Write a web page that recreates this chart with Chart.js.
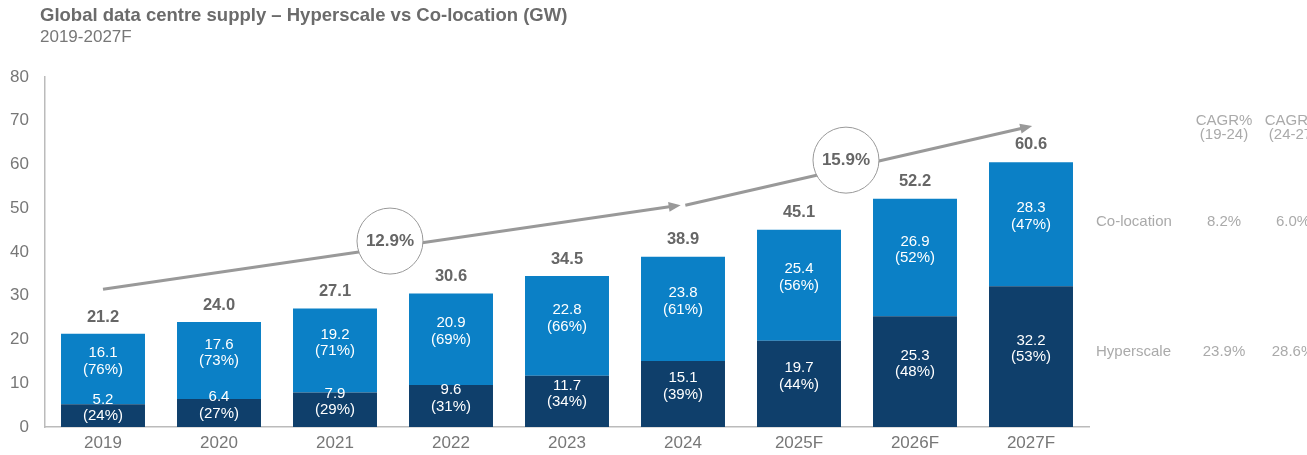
<!DOCTYPE html>
<html>
<head>
<meta charset="utf-8">
<title>Global data centre supply</title>
<script src="https://cdn.jsdelivr.net/npm/chart.js@4.4.1/dist/chart.umd.min.js"></script>
<style>
  body { margin: 0; background: #fff; font-family: "Liberation Sans", Arial, sans-serif; }
  #wrap { position: relative; width: 1307px; height: 455px; }
  #title { position: absolute; left: 40px; top: 5px; font-size: 18.5px; font-weight: bold; color: #6b6b6b; line-height: 20px; }
  #subtitle { position: absolute; left: 40px; top: 27px; font-size: 17px; color: #777; line-height: 20px; }
  canvas { position: absolute; left: 0; top: 0; }
</style>
</head>
<body>
<div id="wrap">
  <canvas id="supplyChart" width="1307" height="455"></canvas>
  <div id="title">Global data centre supply – Hyperscale vs Co-location (GW)</div>
  <div id="subtitle">2019-2027F</div>
</div>
<script>
// --- data ---
const years = ['2019', '2020', '2021', '2022', '2023', '2024', '2025F', '2026F', '2027F'];
const hyperscale = [5.2, 6.4, 7.9, 9.6, 11.7, 15.1, 19.7, 25.3, 32.2];
const colocation = [16.1, 17.6, 19.2, 20.9, 22.8, 23.8, 25.4, 26.9, 28.3];
const totals = [21.2, 24.0, 27.1, 30.6, 34.5, 38.9, 45.1, 52.2, 60.6];
const hyperPct = [24, 27, 29, 31, 34, 39, 44, 48, 53];
const coloPct = [76, 73, 71, 69, 66, 61, 56, 52, 47];
const yTicks = [0, 10, 20, 30, 40, 50, 60, 70, 80];

// trend arrows [category index, GW]
const trendPoints = [[0, 31.5], [4.98, 50.7], [5.02, 50.7], [8.01, 68.8]];
const cagrBubbles = ['12.9%', '15.9%'];
const cagrBubbleAt = [[2.474, 42.5], [6.405, 61.0]];

// side table
const cagrHeader = [['CAGR%', '(19-24)'], ['CAGR%', '(24-27)']];
const cagrRows = ['Co-location', 'Hyperscale'];
const cagrRowAt = [46.9, 17.2];
const cagrValues = [['8.2%', '6.0%'], ['23.9%', '28.6%']];

const FONT = '"Liberation Sans", Arial, sans-serif';
const LIGHT = '#0b80c6';
const DARK = '#0f3f6b';
const GREY = '#999999';

function arrowHead(ctx, x1, y1, x2, y2) {
    const a = Math.atan2(y2 - y1, x2 - x1);
    const len = 12, w = 5;
    ctx.beginPath();
    ctx.moveTo(x2, y2);
    ctx.lineTo(x2 - len * Math.cos(a) + w * Math.sin(a), y2 - len * Math.sin(a) - w * Math.cos(a));
    ctx.lineTo(x2 - len * Math.cos(a) - w * Math.sin(a), y2 - len * Math.sin(a) + w * Math.cos(a));
    ctx.closePath();
    ctx.fill();
}

const overlayPlugin = {
    id: 'overlay',
    afterDatasetsDraw(chart) {
        const ctx = chart.ctx;
        const xs = chart.scales.x, ys = chart.scales.y;
        const area = chart.chartArea;
        ctx.save();

        // labels inside the bars
        ctx.fillStyle = '#ffffff';
        ctx.font = '15px ' + FONT;
        ctx.textAlign = 'center';
        ctx.textBaseline = 'middle';
        [[0, hyperscale, hyperPct], [1, colocation, coloPct]].forEach(([di, vals, pcts]) => {
            chart.getDatasetMeta(di).data.forEach((bar, i) => {
                const mid = (bar.y + bar.base) / 2 - 8;
                ctx.fillText(vals[i].toFixed(1), bar.x, mid - 8);
                ctx.fillText('(' + pcts[i] + '%)', bar.x, mid + 8.5);
            });
        });

        // totals above the bars
        ctx.fillStyle = '#666666';
        ctx.font = 'bold 16.5px ' + FONT;
        totals.forEach((t, i) => {
            ctx.fillText(t.toFixed(1), xs.getPixelForValue(i), ys.getPixelForValue(t) - 17);
        });

        // trend arrows
        const px = trendPoints.map(p => [xs.getPixelForValue(p[0]), ys.getPixelForValue(p[1])]);
        ctx.strokeStyle = GREY;
        ctx.fillStyle = GREY;
        ctx.lineWidth = 3;
        for (let s = 0; s < px.length; s += 2) {
            const [a, b] = [px[s], px[s + 1]];
            const ang = Math.atan2(b[1] - a[1], b[0] - a[0]);
            ctx.beginPath();
            ctx.moveTo(a[0], a[1]);
            ctx.lineTo(b[0] - 8 * Math.cos(ang), b[1] - 8 * Math.sin(ang));
            ctx.stroke();
            arrowHead(ctx, a[0], a[1], b[0], b[1]);
        }

        // CAGR bubbles
        cagrBubbleAt.forEach((p, i) => {
            const cx = xs.getPixelForValue(p[0]), cy = ys.getPixelForValue(p[1]);
            ctx.beginPath();
            ctx.arc(cx, cy, 33, 0, Math.PI * 2);
            ctx.fillStyle = '#ffffff';
            ctx.fill();
            ctx.lineWidth = 1;
            ctx.strokeStyle = GREY;
            ctx.stroke();
            ctx.fillStyle = '#666666';
            ctx.font = 'bold 17px ' + FONT;
            ctx.fillText(cagrBubbles[i], cx, cy);
        });

        // side table
        ctx.fillStyle = '#aaaaaa';
        ctx.font = '15px ' + FONT;
        const colX = [area.right + 135, area.right + 204];
        cagrHeader.forEach((lines, c) => {
            ctx.fillText(lines[0], colX[c], ys.getPixelForValue(69.9));
            ctx.fillText(lines[1], colX[c], ys.getPixelForValue(66.8));
        });
        cagrRows.forEach((name, r) => {
            const y = ys.getPixelForValue(cagrRowAt[r]);
            ctx.textAlign = 'left';
            ctx.fillText(name, area.right + 7, y);
            ctx.textAlign = 'center';
            cagrValues[r].forEach((v, c) => ctx.fillText(v, colX[c], y));
        });
        ctx.restore();
    }
};

const ctx = document.getElementById('supplyChart').getContext('2d');
new Chart(ctx, {
    type: 'bar',
    data: {
        labels: years,
        datasets: [
            { label: 'Hyperscale', data: hyperscale, backgroundColor: DARK },
            { label: 'Co-location', data: colocation, backgroundColor: LIGHT }
        ]
    },
    options: {
        responsive: false,
        animation: false,
        events: [],
        barPercentage: 0.724,
        categoryPercentage: 1,
        layout: { padding: { top: 77, right: 218, bottom: 0, left: 0 } },
        plugins: { legend: { display: false }, tooltip: { enabled: false } },
        scales: {
            x: {
                stacked: true,
                grid: { display: false, drawTicks: false },
                border: { color: '#bbbbbb', width: 1.5 },
                ticks: { color: '#777777', font: { family: FONT, size: 17 }, padding: 6 },
                afterFit(scale) { scale.height = 28; }
            },
            y: {
                stacked: true,
                min: 0,
                max: 80,
                afterBuildTicks(scale) { scale.ticks = yTicks.map(v => ({ value: v })); },
                grid: { display: false, drawTicks: false },
                border: { color: '#bbbbbb', width: 1.5 },
                ticks: { color: '#777777', font: { family: FONT, size: 17 }, padding: 16 },
                afterFit(scale) { scale.width = 45; }
            }
        }
    },
    plugins: [overlayPlugin]
});
</script>
</body>
</html>
